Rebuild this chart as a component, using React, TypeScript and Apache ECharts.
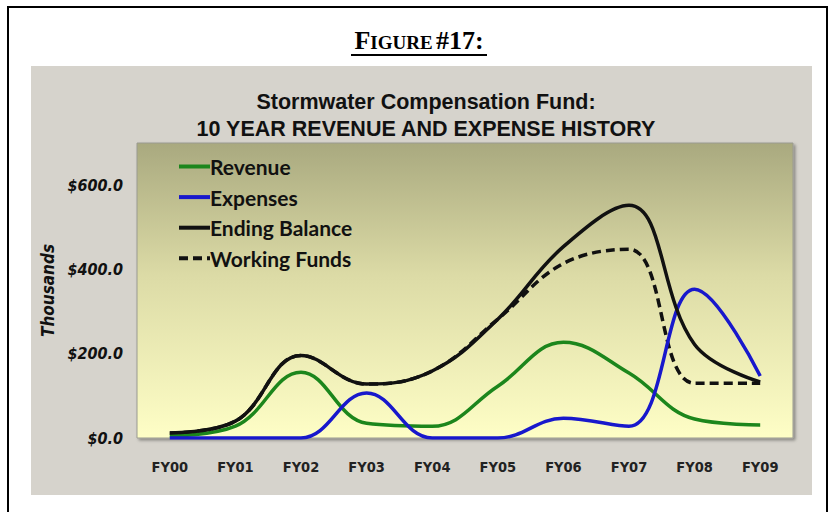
import React, { useEffect, useRef } from "react";
import * as echarts from "echarts";

const categories = ["FY00", "FY01", "FY02", "FY03", "FY04", "FY05", "FY06", "FY07", "FY08", "FY09"];
const revenue = [5, 28, 156, 35, 28, 123, 227, 154, 45, 31];
const expenses = [0, 0, 0, 107, 0, 0, 47, 28, 353, 147];
const endingBalance = [12, 40, 196, 128, 159, 282, 454, 552, 222, 133];
const workingFunds = [12, 40, 196, 128, 159, 282, 414, 448, 130, 130];
const yTicks = [0, 200, 400, 600];

export default function App() {
  const ref = useRef<HTMLDivElement>(null);
  useEffect(() => {
    if (!ref.current) return;
    const chart = echarts.init(ref.current, null, { renderer: "svg" });
    const lineSeries = (name: string, data: number[], color: string, type: any = "solid", z = 2) => ({
      name,
      type: "line",
      data,
      smooth: 0.4,
      symbol: "none",
      z,
      lineStyle: { color, width: 3.5, type },
      itemStyle: { color },
    });
    chart.setOption({
      animation: false,
      backgroundColor: "#ffffff",
      graphic: [
        { type: "rect", shape: { x: 8, y: 7, width: 819, height: 520 }, style: { fill: "none", stroke: "#000", lineWidth: 2 }, z: 0 },
        { type: "rect", shape: { x: 31, y: 66, width: 781, height: 429 }, style: { fill: "#d6d3cc" }, z: -10 },
        {
          type: "text",
          x: 419,
          y: 40,
          style: {
            text: "{a|F}{b|IGURE} {a|#17:}",
            align: "center",
            verticalAlign: "middle",
            rich: {
              a: { fontFamily: "Liberation Serif", fontWeight: "bold", fontSize: 26, fill: "#000" },
              b: { fontFamily: "Liberation Serif", fontWeight: "bold", fontSize: 19, fill: "#000", padding: [5, 0, 0, 0] },
            },
          },
        },
        { type: "line", shape: { x1: 351, y1: 55, x2: 487, y2: 55 }, style: { stroke: "#000", lineWidth: 2 } },
      ],
      title: {
        text: "Stormwater Compensation Fund:\n10 YEAR REVENUE AND EXPENSE HISTORY",
        left: 421,
        top: 83,
        textAlign: "center",
        textStyle: { fontFamily: "Liberation Sans", fontWeight: "bold", fontSize: 21.5, lineHeight: 27, color: "#111" },
      },
      legend: {
        orient: "vertical",
        left: 172,
        top: 151,
        itemWidth: 31,
        itemHeight: 14,
        itemGap: 9.6,
        itemStyle: { opacity: 0 },
        lineStyle: { width: 4 },
        data: ["Revenue", "Expenses", "Ending Balance", "Working Funds"],
        textStyle: { fontFamily: "Lato", fontWeight: "bold", fontSize: 21, lineHeight: 21, color: "#111", padding: [0, 0, 0, -5] },
      },
      grid: {
        left: 137,
        right: 41,
        top: 143,
        bottom: 74,
        show: true,
        borderColor: "#9a9a90",
        borderWidth: 1,
        shadowColor: "rgba(0,0,0,0.35)",
        shadowBlur: 3,
        shadowOffsetX: 2,
        shadowOffsetY: 2,
        backgroundColor: {
          type: "linear",
          x: 0,
          y: 0,
          x2: 0,
          y2: 1,
          colorStops: [
            { offset: 0, color: "#a9a97f" },
            { offset: 0.45, color: "#dcdba6" },
            { offset: 1, color: "#fefec6" },
          ],
        },
      },
      xAxis: {
        type: "category",
        data: categories,
        boundaryGap: true,
        axisLine: { show: false },
        axisTick: { show: false },
        axisLabel: { margin: 21, fontFamily: "DejaVu Sans Condensed", fontWeight: "bold", fontSize: 14.5, color: "#222" },
      },
      yAxis: {
        type: "value",
        min: 0,
        max: 700,
        interval: 200,
        name: "Thousands",
        nameLocation: "middle",
        nameGap: 78,
        nameRotate: 90,
        nameTextStyle: { fontFamily: "DejaVu Sans Condensed", fontStyle: "italic", fontWeight: "bold", fontSize: 17, color: "#111" },
        splitLine: { show: false },
        axisLine: { show: false },
        axisTick: { show: false },
        axisLabel: {
          margin: 14,
          fontFamily: "DejaVu Sans Condensed",
          fontStyle: "italic",
          fontWeight: "bold",
          fontSize: 16,
          color: "#111",
          formatter: (v: number) => (yTicks.includes(v) ? "$" + v.toFixed(1) : ""),
        },
      },
      series: [
        lineSeries("Revenue", revenue, "#1c861c", "solid", 3),
        lineSeries("Expenses", expenses, "#1818cc", "solid", 3),
        lineSeries("Working Funds", workingFunds, "#111111", [9, 5], 2),
        lineSeries("Ending Balance", endingBalance, "#111111", "solid", 4),
      ],
    });
    return () => chart.dispose();
  }, []);
  return <div ref={ref} style={{ position: "fixed", left: 0, top: 0, width: 834, height: 512 }} />;
}
